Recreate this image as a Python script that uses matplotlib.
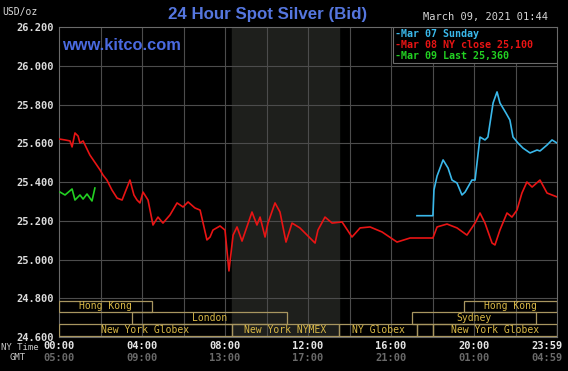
"""24 hour spot silver chart, kitco style (black background, session bars at the bottom)."""
import matplotlib; matplotlib.use("Agg"); import matplotlib.pyplot as plt
from matplotlib.patches import Rectangle
import matplotlib.transforms as mtransforms

# hours since 00:00 NY time, price in USD/oz
red_h = [0.0, 0.29, 0.53, 0.63, 0.77, 0.92, 1.01, 1.16, 1.49, 1.98, 2.12, 2.31, 2.55, 2.80, 3.04,
         3.42, 3.61, 3.76, 3.90, 4.05, 4.29, 4.53, 4.77, 5.01, 5.35, 5.69, 5.98, 6.22, 6.55, 6.80,
         7.13, 7.28, 7.42, 7.76, 8.00, 8.19, 8.39, 8.58, 8.82, 9.30, 9.54, 9.69, 9.93, 10.07, 10.41,
         10.65, 10.94, 11.23, 11.61, 12.34, 12.48, 12.82, 13.16, 13.64, 14.12, 14.51, 14.99, 15.57,
         16.29, 16.92, 18.02, 18.22, 18.70, 19.18, 19.66, 20.05, 20.29, 20.53, 20.87, 21.01, 21.25,
         21.59, 21.83, 22.07, 22.31, 22.55, 22.80, 23.18, 23.52, 23.76, 24.0]
red_v = [25.622, 25.617, 25.612, 25.581, 25.653, 25.637, 25.601, 25.612, 25.539, 25.462, 25.436,
         25.410, 25.359, 25.317, 25.307, 25.410, 25.333, 25.307, 25.292, 25.348, 25.307, 25.178,
         25.219, 25.188, 25.230, 25.292, 25.271, 25.297, 25.266, 25.255, 25.101, 25.116, 25.152,
         25.173, 25.152, 24.941, 25.126, 25.168, 25.095, 25.245, 25.178, 25.219, 25.116, 25.188,
         25.292, 25.245, 25.090, 25.188, 25.163, 25.085, 25.152, 25.219, 25.188, 25.194, 25.116,
         25.163, 25.168, 25.142, 25.090, 25.111, 25.111, 25.168, 25.183, 25.163, 25.126, 25.188,
         25.240, 25.188, 25.085, 25.075, 25.152, 25.240, 25.219, 25.255, 25.343, 25.400, 25.374,
         25.410, 25.343, 25.333, 25.323]

cyan_h = [17.25, 18.02, 18.07, 18.22, 18.51, 18.75, 18.94, 19.18, 19.42, 19.57, 19.90, 20.05, 20.29,
          20.53, 20.67, 20.92, 21.11, 21.25, 21.54, 21.73, 21.88, 22.12, 22.36, 22.70, 23.04, 23.18,
          23.52, 23.76, 24.0]
cyan_v = [25.226, 25.226, 25.359, 25.431, 25.514, 25.472, 25.410, 25.395, 25.333, 25.348, 25.410,
          25.410, 25.632, 25.617, 25.632, 25.808, 25.865, 25.808, 25.756, 25.720, 25.632, 25.601,
          25.575, 25.550, 25.565, 25.560, 25.591, 25.617, 25.601]

green_h = [0.05, 0.29, 0.63, 0.77, 1.01, 1.16, 1.35, 1.59, 1.73]
green_v = [25.348, 25.333, 25.364, 25.307, 25.333, 25.312, 25.338, 25.302, 25.369]

legend_labels = ["-Mar 07 Sunday", "-Mar 08 NY close 25,100", "-Mar 09 Last 25,360"]

ny_ticks = [0, 4, 8, 12, 16, 20, 24]
ny_labels = ["00:00", "04:00", "08:00", "12:00", "16:00", "20:00", "23:59"]
gmt_labels = ["05:00", "09:00", "13:00", "17:00", "21:00", "01:00", "04:59"]

# session bars: (name, start hour, end hour, row)
sess_name = ["Hong Kong", "Hong Kong", "London", "Sydney", "New York Globex", "New York NYMEX",
             "NY Globex", "", "New York Globex"]
sess_start = [0.0, 19.5, 3.5, 17.0, 0.0, 8.33, 13.5, 17.25, 18.0]
sess_end = [4.5, 24.0, 11.0, 23.0, 8.33, 13.5, 17.25, 18.0, 24.0]
sess_row = [0, 0, 1, 1, 2, 2, 2, 2, 2]

nymex_open, nymex_close = 8.33, 13.5

BG = "black"
RED, CYAN, GREEN = "#e81414", "#3ab8ea", "#22d022"
GRID = "#4c4c4c"
GOLD = "#d9b846"
MONO = "DejaVu Sans Mono"

fig = plt.figure(figsize=(5.68, 3.71), dpi=100, facecolor=BG)
ax = fig.add_axes([59 / 568, 34 / 371, 498 / 568, 310 / 371], facecolor=BG)
ax.set_xlim(0, 24)
ax.set_ylim(24.6, 26.2)

ax.axvspan(nymex_open, nymex_close, color="#1e1f1c", zorder=0)
for h in range(2, 24, 2):
    ax.axvline(h, color=GRID, lw=0.8, zorder=1)
for i in range(1, 8):
    ax.axhline(24.6 + 0.2 * i, color=GRID, lw=0.8, zorder=1)
for s in ax.spines.values():
    s.set_color("#6a6a6a")
    s.set_linewidth(0.8)

ax.plot(red_h, red_v, color=RED, lw=1.2, zorder=3)
ax.plot(cyan_h, cyan_v, color=CYAN, lw=1.2, zorder=3)
ax.plot(green_h, green_v, color=GREEN, lw=1.2, zorder=3)

# session boxes
row_top = [24.788, 24.730, 24.668]
row_hgt = [0.058, 0.062, 0.062]
for name, a, b, r in zip(sess_name, sess_start, sess_end, sess_row):
    ax.add_patch(Rectangle((a, row_top[r] - row_hgt[r]), b - a, row_hgt[r], fill=False,
                           edgecolor="#a89660", lw=0.9, zorder=4))
    ax.text((a + b) / 2, row_top[r] - row_hgt[r] / 2, name, color=GOLD, fontsize=7,
            family=MONO, ha="center", va="center", zorder=5)

# y axis
yt = [24.6 + 0.2 * i for i in range(9)]
ax.set_yticks(yt)
ax.set_yticklabels([f"{v:.3f}" for v in yt], color="#dcdcdc", fontsize=7.5, family=MONO,
                   fontweight="bold")
ax.tick_params(axis="y", length=0, pad=4)

# x axis: NY time row + GMT row
ax.set_xticks(ny_ticks)
ax.set_xticklabels(ny_labels, color="#e6e6e6", fontsize=7.5, family=MONO, fontweight="bold")
ax.tick_params(axis="x", length=0, pad=3)
sec = ax.secondary_xaxis(-0.052)
sec.set_xticks(ny_ticks)
sec.set_xticklabels(gmt_labels, color="#6a6a6a", fontsize=7.5, family=MONO, fontweight="bold")
sec.tick_params(length=0, pad=0)
sec.spines["bottom"].set_visible(False)
shift = mtransforms.ScaledTranslation(-10 / 100, 0, fig.dpi_scale_trans)
for lab in (ax.get_xticklabels()[-1], sec.get_xticklabels()[-1]):
    lab.set_transform(lab.get_transform() + shift)

fig.text(1 / 568, 1 - 347 / 371, "NY Time", color="#c8c8c8", fontsize=6.5, family=MONO, va="center")
fig.text(10 / 568, 1 - 358 / 371, "GMT", color="#c8c8c8", fontsize=6.5, family=MONO, va="center")
fig.text(2 / 568, 1 - 12 / 371, "USD/oz", color="#dcdcdc", fontsize=7, family=MONO, va="center")

fig.text(268 / 568, 1 - 15 / 371, "24 Hour Spot Silver (Bid)", color="#5576de", fontsize=12.2,
         fontweight="bold", family="Liberation Sans", ha="center", va="center")
ax.text(0.006, 0.94, "www.kitco.com", transform=ax.transAxes, color="#4a6ae0", fontsize=11.8,
        fontweight="bold", family="Liberation Sans", va="center")
fig.text(548 / 568, 1 - 17 / 371, "March 09, 2021 01:44", color="#d6d6d6", fontsize=7.5,
         family=MONO, ha="right", va="center")

# legend block
ax.add_patch(Rectangle((0.670, 0.885), 0.33, 0.115, transform=ax.transAxes, facecolor=BG,
                       edgecolor="#6a6a6a", lw=0.8, zorder=6))
for i, (lab, c) in enumerate(zip(legend_labels, [CYAN, RED, GREEN])):
    ax.text(0.675, 0.978 - i * 0.036, lab, transform=ax.transAxes, color=c, fontsize=7.2,
            family=MONO, fontweight="bold", va="center", zorder=7)

fig.savefig("out.png", dpi=100, facecolor=BG)
